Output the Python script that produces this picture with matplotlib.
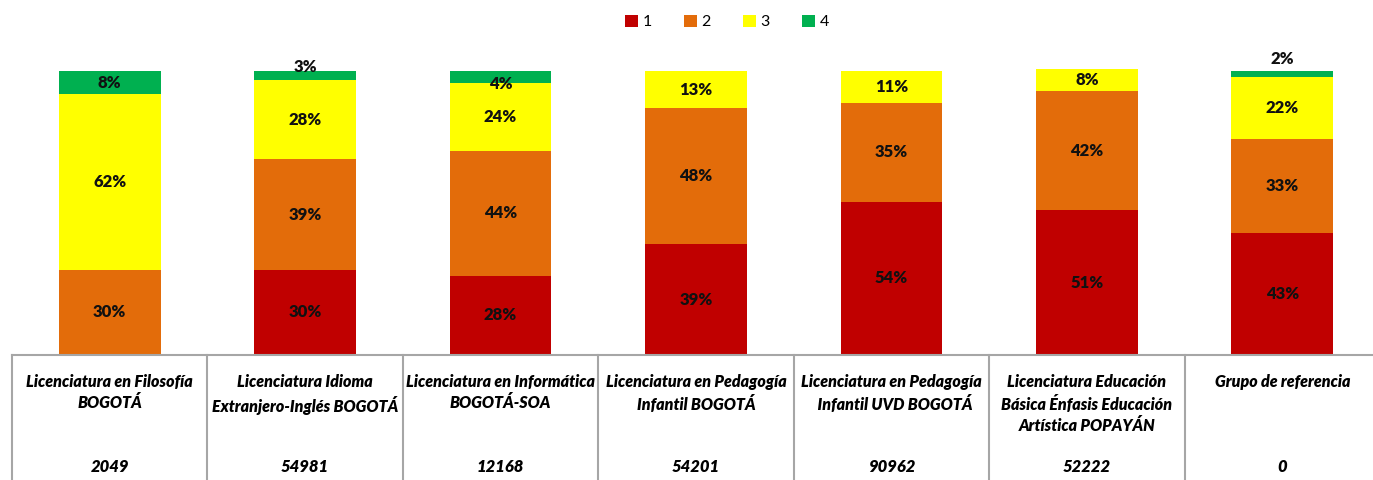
import matplotlib.pyplot as plt
import numpy as np

# Datos (porcentajes por nivel)
programas = [
    "Licenciatura en Filosofía\nBOGOTÁ",
    "Licenciatura Idioma\nExtranjero-Inglés BOGOTÁ",
    "Licenciatura en Informática\nBOGOTÁ-SOA",
    "Licenciatura en Pedagogía\nInfantil BOGOTÁ",
    "Licenciatura en Pedagogía\n  Infantil UVD BOGOTÁ",
    "Licenciatura Educación\nBásica Énfasis Educación\nArtística POPAYÁN",
    "Grupo de referencia",
]
totales = ["2049", "54981", "12168", "54201", "90962", "52222", "0"]
nivel_1 = [0, 30, 28, 39, 54, 51, 43]
nivel_2 = [30, 39, 44, 48, 35, 42, 33]
nivel_3 = [62, 28, 24, 13, 11, 8, 22]
nivel_4 = [8, 3, 4, 0, 0, 0, 2]

niveles = ["1", "2", "3", "4"]
colores = ["#C00000", "#E36C0A", "#FFFF00", "#00B050"]

# desplazamiento manual (en puntos) de algunas etiquetas pequeñas
ajustes = {(1, 3): 6, (2, 3): -5, (6, 3): 11}

plt.rcParams['font.family'] = ['Lato', 'DejaVu Sans']

W, H = 1373, 480
fig = plt.figure(figsize=(W / 100, H / 100), dpi=100)
ax_bottom = (H - 355) / H
ax_h = 295 / H
ax = fig.add_axes([12 / W, ax_bottom, 1368 / W, ax_h])

x = np.arange(len(programas))
series = [nivel_1, nivel_2, nivel_3, nivel_4]
base = np.zeros(len(programas))
for j, (vals, col, nom) in enumerate(zip(series, colores, niveles)):
    vals = np.array(vals, dtype=float)
    ax.bar(x, vals, bottom=base, width=0.52, color=col, label=nom, linewidth=0)
    for i, v in enumerate(vals):
        if v <= 0:
            continue
        off = ajustes.get((i, j), 0)
        ax.annotate(f"{int(v)}%", (x[i], base[i] + v / 2), xytext=(0, off),
                    textcoords="offset points", ha="center", va="center",
                    fontsize=12, fontweight="heavy", color="#111111")
    base += vals

ax.set_xlim(-0.5, len(programas) - 0.5)
ax.set_ylim(0, 104)
for s in ["top", "right", "left"]:
    ax.spines[s].set_visible(False)
ax.spines["bottom"].set_color("#A6A6A6")
ax.spines["bottom"].set_linewidth(1.5)
ax.set_yticks([])
ax.set_xticks([])

# tabla de categorías bajo el eje
y_fondo = -ax_bottom / ax_h
tr = ax.get_xaxis_transform()
for k in range(len(programas)):
    ax.plot([k - 0.5, k - 0.5], [0, y_fondo], color="#A6A6A6", lw=1.5,
            transform=tr, clip_on=False)
for i, (nom, tot) in enumerate(zip(programas, totales)):
    ax.text(x[i], -19 / 295, nom, transform=tr, ha="center", va="top",
            fontsize=11.5, fontweight="heavy", style="italic", linespacing=1.35,
            clip_on=False)
    ax.text(x[i], -112 / 295, tot, transform=tr, ha="center", va="center",
            fontsize=12, fontweight="heavy", style="italic", clip_on=False)

fig.legend(loc="center", bbox_to_anchor=(727 / W, 1 - 22 / H), ncol=4, frameon=False,
           fontsize=11.5, handlelength=0.8, handleheight=0.8, handletextpad=0.3,
           columnspacing=2.0)

fig.savefig("out.png", dpi=100)
